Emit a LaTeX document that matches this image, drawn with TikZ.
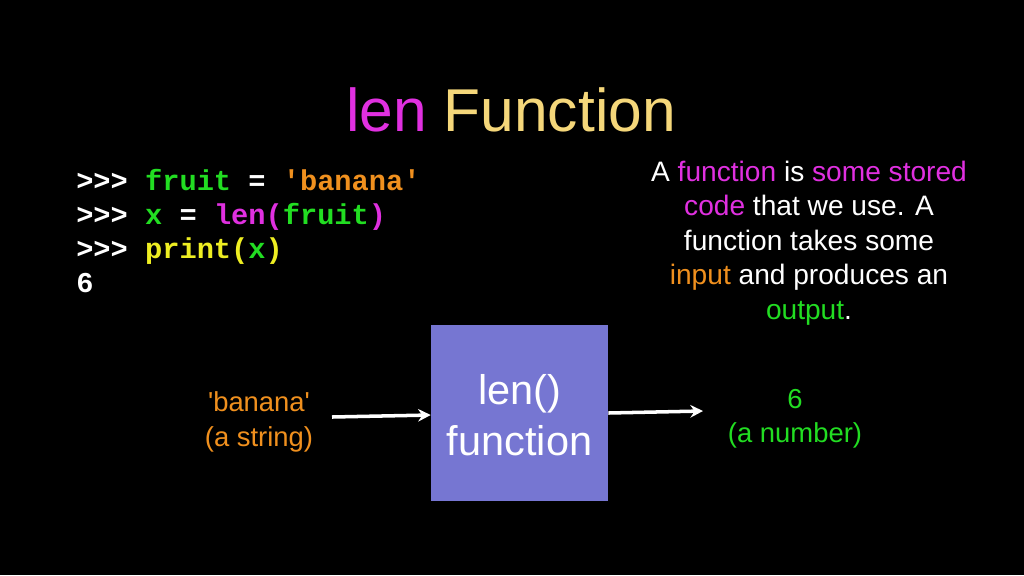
\documentclass[tikz,border=0pt]{standalone}
\usetikzlibrary{arrows.meta}
\usepackage{fontspec}
\setmainfont{Liberation Sans}
\setmonofont{Liberation Mono}
\definecolor{mag}{HTML}{E030E0}
\definecolor{ttl}{HTML}{F5D77A}
\definecolor{org}{HTML}{F0901E}
\definecolor{grn}{HTML}{22DD22}
\definecolor{ylw}{HTML}{EEEE22}
\definecolor{boxc}{HTML}{7676D2}
\newcommand{\sq}{\textquotesingle}
\begin{document}
\begin{tikzpicture}[x=0.025cm,y=-0.025cm,
  code/.style={anchor=base west,inner sep=0,font=\fontsize{20.4}{24}\selectfont\ttfamily\bfseries,text=white},
  body/.style={align=center,inner sep=0,font=\fontsize{19.5}{24.5}\selectfont,text=white},
  arr/.style={white,line width=2.5pt,-{Stealth[length=9pt,width=9pt,inset=3pt]}}]
\fill[black] (0,0) rectangle (1024,575);
\useasboundingbox (0,0) rectangle (1024,575);
\node[inner sep=0,font=\fontsize{43}{50}\selectfont] (title) at (511,110) {\textcolor{mag}{len} \textcolor{ttl}{Function}};
\node[code] (c1) at (76,190) {>>> \textcolor{grn}{fruit} = \textcolor{org}{\sq banana\sq}};
\node[code] (c2) at (76,224) {>>> \textcolor{grn}{x} = \textcolor{mag}{len(}\textcolor{grn}{fruit}\textcolor{mag}{)}};
\node[code] (c3) at (76,258) {>>> \textcolor{ylw}{print(}\textcolor{grn}{x}\textcolor{ylw}{)}};
\node[code] (c4) at (76,292) {6};
\node[body,font=\fontsize{20}{24.5}\selectfont] (desc) at (809,243) {A \textcolor{mag}{function} is \textcolor{mag}{some stored}\\ \textcolor{mag}{code} that we use. A\\ function takes some\\ \textcolor{org}{input} and produces an\\ \textcolor{grn}{output}.};
\node[fill=boxc,minimum width=177*0.025cm,minimum height=176*0.025cm,inner sep=0] (box) at (519.5,413) {};
\node[body,font=\fontsize{29.5}{36}\selectfont] (boxt) at (519.5,415) {len()\\function};
\node[body,text=org] (in) at (259,422) {\sq banana\sq\\(a string)};
\node[body,text=grn] (out) at (795,419) {6\\(a number)};
\coordinate (a1) at (332,417);
\coordinate (a2) at (703,411);
\draw[arr] (a1) -- (box.west |- 0,415);
\draw[arr] (box.east |- 0,413) -- (a2);
\end{tikzpicture}
\end{document}
